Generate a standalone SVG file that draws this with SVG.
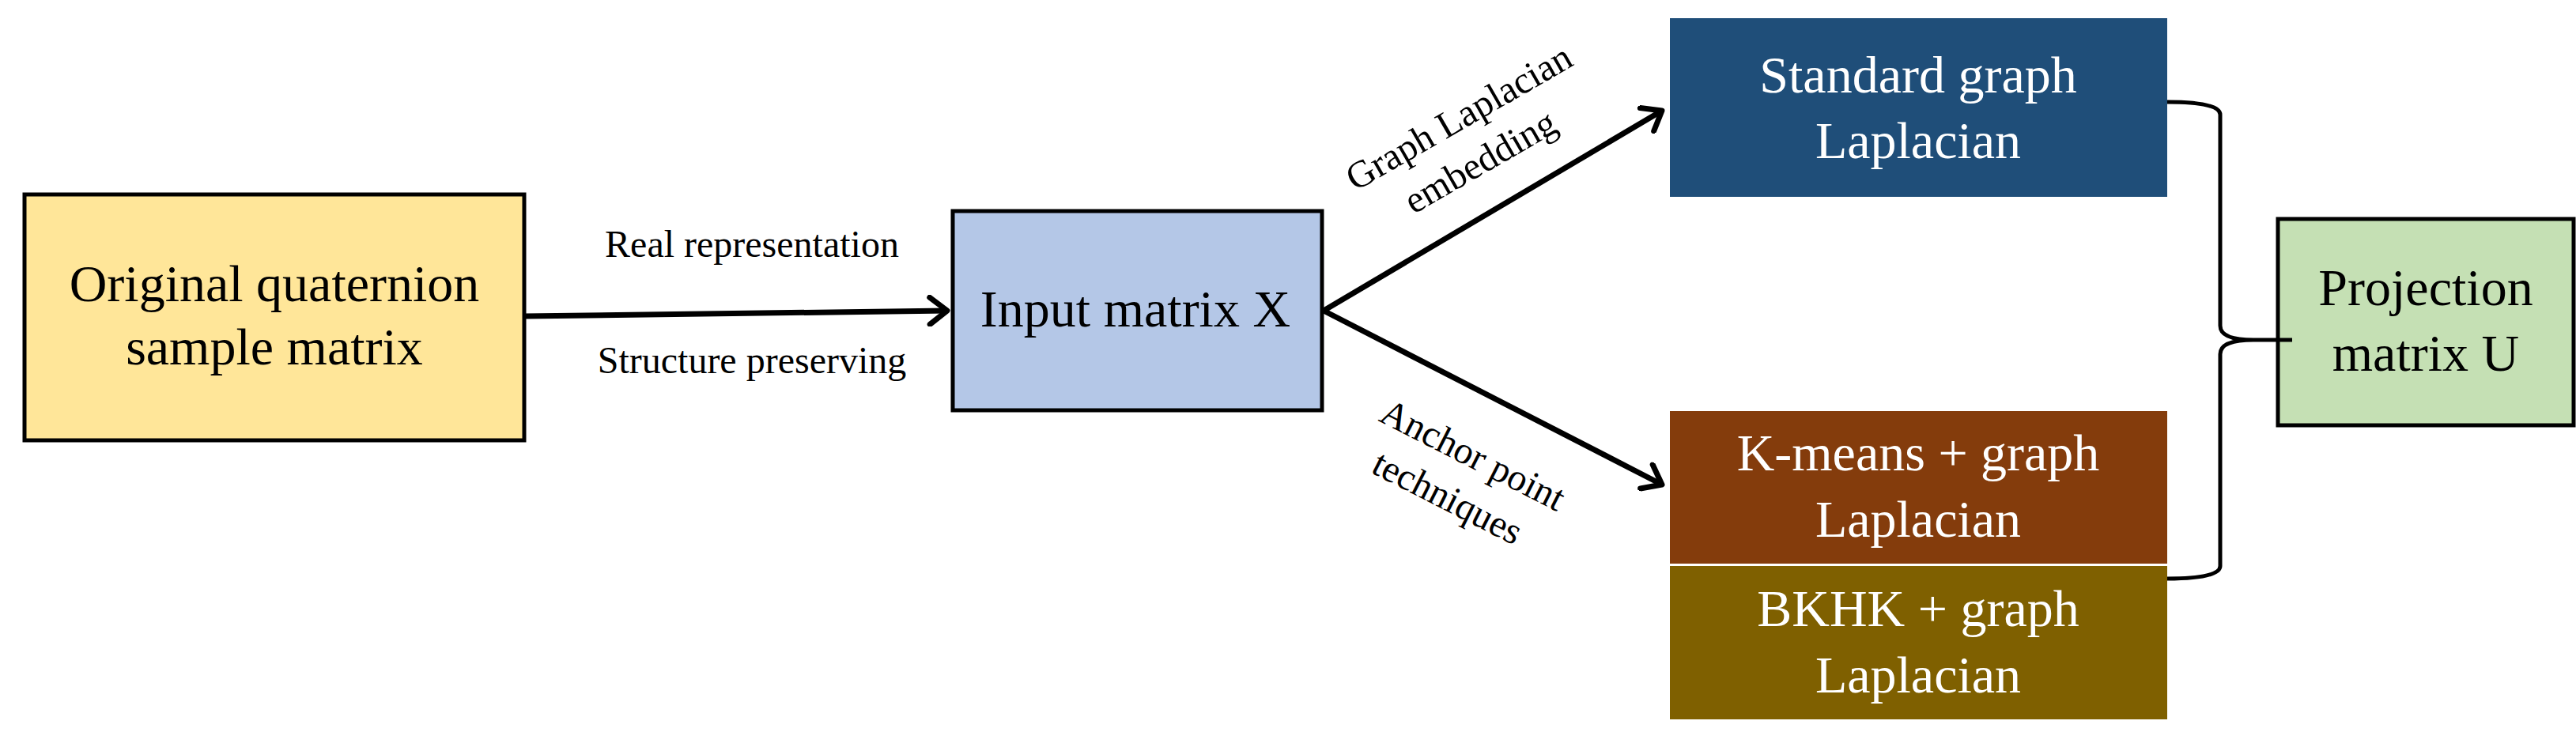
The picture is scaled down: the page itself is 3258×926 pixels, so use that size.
<svg xmlns="http://www.w3.org/2000/svg" width="3258" height="926" viewBox="0 0 3258 926">
<style>
.box{stroke:#000;stroke-width:5}
.t{font-family:"Liberation Serif","Times New Roman",serif;font-size:66px;text-anchor:middle}
.w{fill:#fff}
.l{font-family:"Liberation Serif","Times New Roman",serif;font-size:48px;text-anchor:middle}
.c{stroke:#000;stroke-width:7;fill:none}
</style>
<defs>
<marker id="a" viewBox="-30 -20 40 40" refX="0" refY="0" markerWidth="40" markerHeight="40" orient="auto" markerUnits="userSpaceOnUse">
<path d="M-22,-17 L0,0 L-22,17" fill="none" stroke="#000" stroke-width="7" stroke-linecap="round" stroke-linejoin="round"/>
</marker>
</defs>
<g id="n-orig"><rect class="box" x="31" y="246" width="632" height="311" fill="#ffe699"/>
<text class="t" x="347" y="381">Original quaternion</text><text class="t" x="347" y="461">sample matrix</text></g>
<g id="n-input"><rect class="box" x="1205" y="267" width="467" height="252" fill="#b4c7e7"/>
<text class="t" x="1436" y="413">Input matrix X</text></g>
<g id="n-std"><rect x="2112" y="23" width="629" height="226" fill="#1f4e79"/>
<text class="t w" x="2426" y="117">Standard graph</text><text class="t w" x="2426" y="200">Laplacian</text></g>
<g id="n-km"><rect x="2112" y="520" width="629" height="193" fill="#843c0c"/>
<text class="t w" x="2426" y="595">K-means + graph</text><text class="t w" x="2426" y="679">Laplacian</text></g>
<g id="n-bkhk"><rect x="2112" y="716" width="629" height="194" fill="#7f6000"/>
<text class="t w" x="2426" y="792">BKHK + graph</text><text class="t w" x="2426" y="876">Laplacian</text></g>
<g id="n-proj"><rect class="box" x="2881" y="277" width="374" height="261" fill="#c5e0b4"/>
<text class="t" x="3068" y="386">Projection</text><text class="t" x="3068" y="469">matrix U</text></g>
<g id="connectors">
<path class="c" d="M663,400 L1198,393" marker-end="url(#a)"/>
<path class="c" d="M1674,393 L2102,140" marker-end="url(#a)"/>
<path class="c" d="M1674,393 L2102,613" marker-end="url(#a)"/>
<path d="M2741,129 Q2808,129 2808,145 L2808,412 Q2808,430 2850,430 L2899,430 M2850,430 Q2808,430 2808,448 L2808,716 Q2808,732 2741,732" fill="none" stroke="#000" stroke-width="5"/>
</g>
<text class="l" x="951" y="325">Real representation</text>
<text class="l" x="951" y="472">Structure preserving</text>
<text class="l" transform="translate(1846,150) rotate(-30)" y="14">Graph Laplacian</text>
<text class="l" transform="translate(1873,206) rotate(-30)" y="14">embedding</text>
<text class="l" transform="translate(1862,577) rotate(27)" y="14">Anchor point</text>
<text class="l" transform="translate(1830,631) rotate(27)" y="14">techniques</text>
</svg>
